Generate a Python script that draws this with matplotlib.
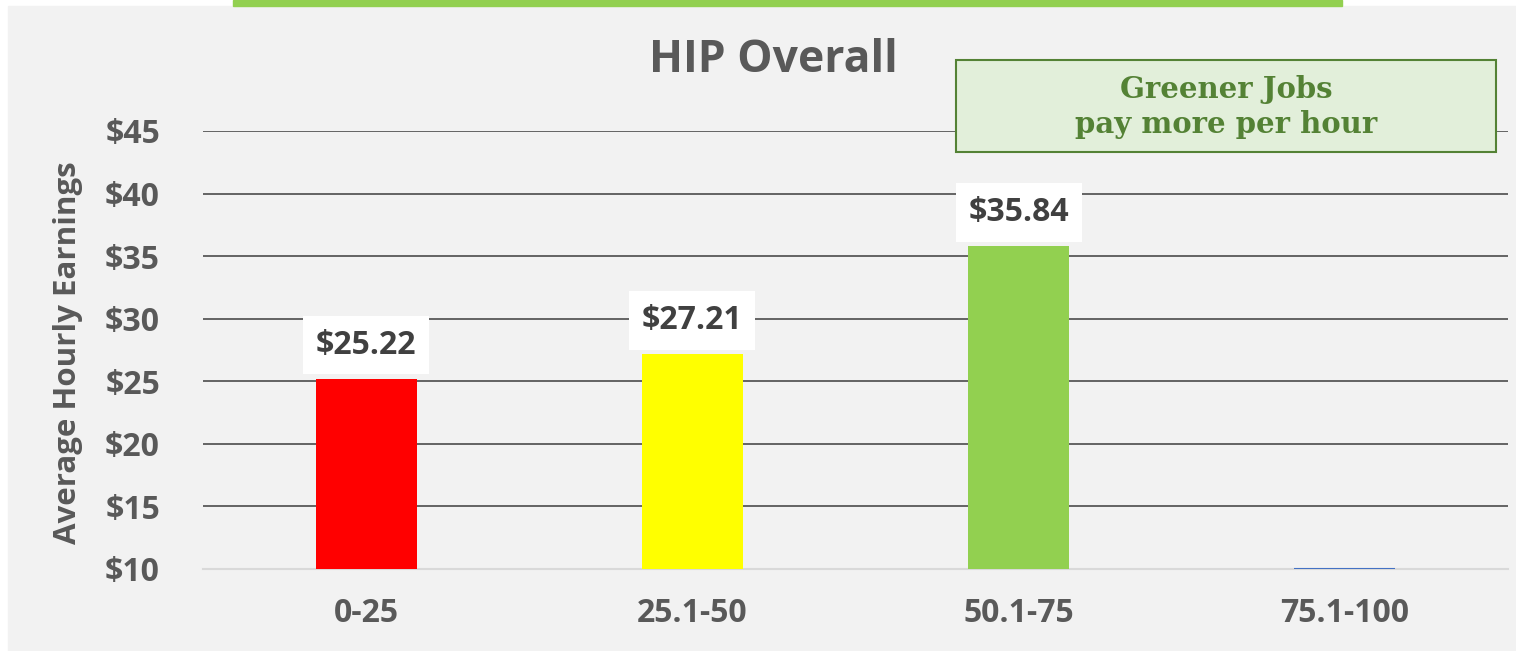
import matplotlib.pyplot as plt
from matplotlib.patches import Rectangle

# chart data
categories = ['0-25', '25.1-50', '50.1-75', '75.1-100']
earnings = [25.22, 27.21, 35.84, 10.0]
labels = ['$25.22', '$27.21', '$35.84', None]
bar_colors = ['#FF0000', '#FFFF00', '#92D050', '#4472C4']
yticks = [10, 15, 20, 25, 30, 35, 40, 45]
base = 10

plt.rcParams['font.family'] = ['Open Sans', 'DejaVu Sans']

fig = plt.figure(figsize=(15.16, 6.51), dpi=100)
fig.patch.set_facecolor('white')
# grey panel and the green strip above it
fig.patches.append(Rectangle((8/1516, 0), 1 - 8/1516, 1 - 6/651,
                             transform=fig.transFigure, color='#F2F2F2',
                             zorder=-10))
fig.patches.append(Rectangle((233/1516, 1 - 6/651), (1342-233)/1516, 6/651,
                             transform=fig.transFigure, color='#92D050',
                             zorder=-10))

ax = fig.add_axes([203/1516, 82/651, 1305/1516, 438/651])
ax.set_facecolor('none')

x = list(range(len(categories)))
heights = [v - base for v in earnings]
bars = ax.bar(x, heights, bottom=base, width=0.31, color=bar_colors,
              zorder=3)
# last bar sits on the axis: show it as a thin blue line
ax.plot([x[3] - 0.155, x[3] + 0.155], [earnings[3], earnings[3]],
        color=bar_colors[3], lw=1.5, zorder=4, solid_capstyle='butt')

for xi, v, lab in zip(x, earnings, labels):
    if lab is None:
        continue
    ax.annotate(lab, (xi, v), xytext=(0, 24), textcoords='offset points',
                ha='center', va='center', fontsize=23, fontweight='bold',
                color='#404040', zorder=5,
                bbox=dict(boxstyle='square,pad=0.4', fc='white', ec='none'))

ax.set_xlim(-0.5, 3.5)
ax.set_ylim(10, 45)
ax.set_yticks(yticks)
ax.set_yticklabels(['$%d' % t for t in yticks])
ax.set_xticks(x)
ax.set_xticklabels(categories)
ax.tick_params(axis='y', length=0, pad=31, labelsize=23, labelcolor='#595959')
ax.tick_params(axis='x', length=0, pad=20, labelsize=23, labelcolor='#595959')
for lbl in ax.get_xticklabels() + ax.get_yticklabels():
    lbl.set_fontweight('bold')

for t in yticks[1:]:
    ax.axhline(t, color='#595959', lw=1.3, zorder=1)
for s in ['top', 'right', 'left']:
    ax.spines[s].set_visible(False)
ax.spines['bottom'].set_color('#D9D9D9')
ax.spines['bottom'].set_linewidth(1.5)

ax.set_ylabel('Average Hourly Earnings', fontsize=22.5, fontweight='bold',
              color='#595959')
ax.yaxis.set_label_coords(-0.092, 0.493)

ax.text(0.4368, 1.162, 'HIP Overall', transform=ax.transAxes, ha='center',
        va='center', fontsize=32, fontweight='bold', color='#595959')

# callout box
ax.add_patch(Rectangle((0.577, 0.952), 0.9908 - 0.577, 1.162 - 0.952,
                       transform=ax.transAxes, fc='#E2EFDA', ec='#548235',
                       lw=1.5, clip_on=False, zorder=6))
ax.text(0.7843, 1.094, 'Greener Jobs', transform=ax.transAxes, ha='center',
        va='center', fontsize=21, fontweight='bold', color='#548235',
        family='DejaVu Serif', zorder=7)
ax.text(0.7843, 1.015, 'pay more per hour', transform=ax.transAxes,
        ha='center', va='center', fontsize=21, fontweight='bold',
        color='#548235', family='DejaVu Serif', zorder=7)

fig.savefig('out.png', dpi=100)
